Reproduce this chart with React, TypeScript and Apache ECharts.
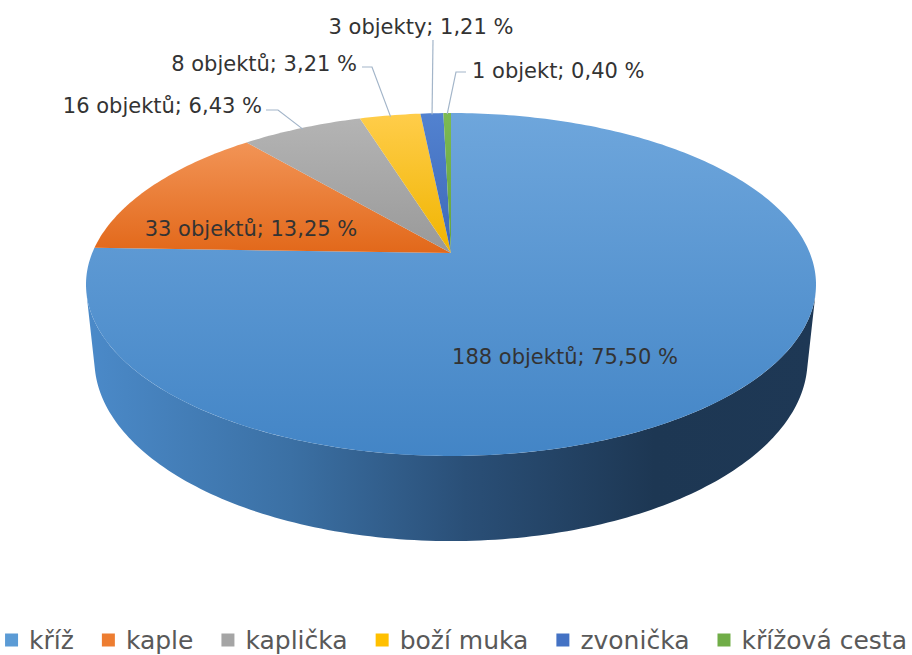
import React, { useEffect, useRef } from 'react';
import * as echarts from 'echarts';

// ---- data ----
const CATEGORIES = ['kříž', 'kaple', 'kaplička', 'boží muka', 'zvonička', 'křížová cesta'];
const COUNTS = [188, 33, 16, 8, 3, 1];
const PERCENTS = [75.5, 13.25, 6.43, 3.21, 1.21, 0.4];
const UNITS = ['objektů', 'objektů', 'objektů', 'objektů', 'objekty', 'objekt'];

// ---- styles ----
const COLORS = ['#5b9bd5', '#ed7d31', '#a5a5a5', '#ffc000', '#4472c4', '#70ad47'];
const TOP_GRAD: [string, string][] = [
  ['#6ea6dc', '#4385c6'],
  ['#f29456', '#e2681a'],
  ['#b4b4b4', '#999999'],
  ['#ffcd4a', '#f0b400'],
  ['#5282d0', '#3d68b8'],
  ['#7cba52', '#66a23e'],
];
const SIDE_GRAD: [string, string, string, string, string][] = [
  ['#4b8ac9', '#3b70a4', '#2a4f77', '#1d3753', '#1e3855'],
  ['#c4601f', '#a9521a', '#8d4416', '#733712', '#733712'],
  ['#8c8c8c', '#777777', '#636363', '#505050', '#505050'],
  ['#d9a300', '#bb8c00', '#9c7500', '#805f00', '#805f00'],
  ['#3a61a8', '#31528f', '#284376', '#20365e', '#20365e'],
  ['#5f933c', '#517d33', '#43682a', '#365422', '#365422'],
];
const FONT = 'DejaVu Sans';
const LABEL_COLOR = '#333333';
const LEADER_COLOR = '#a3b5c9';

// label layout (pixels): text anchor, alignment, leader points from label towards slice
const LABEL_LAYOUT: { x: number; y: number; align: string; leader?: number[][] }[] = [
  { x: 565, y: 357, align: 'center' },
  { x: 251, y: 229, align: 'center' },
  { x: 262, y: 106, align: 'right', leader: [[266, 110], [278, 110]] },
  { x: 357, y: 64, align: 'right', leader: [[362, 67], [372, 67]] },
  { x: 421, y: 27, align: 'center', leader: [[433, 40]] },
  { x: 472, y: 71, align: 'left', leader: [[466, 72], [456, 72]] },
];

// ---- 3D projection of the pie ----
const CX = 451;
const CY = 253;
const SCALE = 358.8;
const ELEV = (27.5 * Math.PI) / 180;
const DIST = 4.83;
const DEPTH = 0.239;
const SINE = Math.sin(ELEV);
const COSE = Math.cos(ELEV);
const F = SCALE * DIST;

function proj(theta: number, r: number, h: number): number[] {
  const u = r * Math.sin(theta);
  const v = r * Math.cos(theta);
  const yc = h * COSE + v * SINE;
  const zc = DIST + v * COSE - h * SINE;
  return [CX + (F * u) / zc, CY - (F * yc) / zc];
}

function arc(a0: number, a1: number, h: number): number[][] {
  const n = Math.max(2, Math.ceil(((a1 - a0) * 180) / Math.PI));
  const pts: number[][] = [];
  for (let k = 0; k <= n; k++) pts.push(proj(a0 + ((a1 - a0) * k) / n, 1, h));
  return pts;
}

const TOTAL = COUNTS.reduce((a, b) => a + b, 0);
const VIS_C = Math.asin(1 / (DIST * COSE));
const VIS0 = Math.PI / 2 + VIS_C;
const VIS1 = (3 * Math.PI) / 2 - VIS_C;

function fmtPct(p: number): string {
  return p.toFixed(2).replace('.', ',');
}

function makeRender(i: number) {
  return (params: any, api: any) => {
    const before = COUNTS.slice(0, i).reduce((a, b) => a + b, 0);
    const val = api.value(0);
    const a0 = (before / TOTAL) * Math.PI * 2;
    const a1 = a0 + (val / TOTAL) * Math.PI * 2;
    const children: any[] = [];

    const left = proj(-Math.PI / 2, 1, 0)[0];
    const right = proj(Math.PI / 2, 1, 0)[0];

    // side (front visible part)
    const s0 = Math.max(a0, VIS0);
    const s1 = Math.min(a1, VIS1);
    if (s1 > s0) {
      const topArc = arc(s0, s1, 0);
      const botArc = arc(s0, s1, -DEPTH).reverse();
      const sg = SIDE_GRAD[i];
      children.push({
        type: 'polygon',
        z2: 1,
        shape: { points: topArc.concat(botArc) },
        style: {
          fill: new echarts.graphic.LinearGradient(left - 5, 0, right + 5, 0, [
            { offset: 0, color: sg[0] },
            { offset: 0.28, color: sg[1] },
            { offset: 0.52, color: sg[2] },
            { offset: 0.78, color: sg[3] },
            { offset: 1, color: sg[4] },
          ], true),
        },
      });
    }

    // top face
    const topPts = [proj(0, 0, 0)].concat(arc(a0, a1, 0));
    children.push({
      type: 'polygon',
      z2: 2,
      shape: { points: topPts },
      style: {
        fill: new echarts.graphic.LinearGradient(0, 0, 0, 1, [
          { offset: 0, color: TOP_GRAD[i][0] },
          { offset: 1, color: TOP_GRAD[i][1] },
        ]),
      },
    });

    // leader + label
    const lay = LABEL_LAYOUT[i];
    if (lay.leader) {
      const rim = proj((a0 + a1) / 2, 0.99, 0);
      children.push({
        type: 'polyline',
        z2: 5,
        shape: { points: lay.leader.concat([rim]) },
        style: { stroke: LEADER_COLOR, lineWidth: 1.2, fill: null },
      });
    }
    children.push({
      type: 'text',
      z2: 10,
      style: {
        text: `${COUNTS[i]} ${UNITS[i]}; ${fmtPct(PERCENTS[i])} %`,
        x: lay.x,
        y: lay.y,
        align: lay.align,
        verticalAlign: 'middle',
        fill: LABEL_COLOR,
        fontFamily: FONT,
        fontSize: 21,
      },
    });

    return { type: 'group', children };
  };
}

export default function App() {
  const ref = useRef<HTMLDivElement>(null);
  useEffect(() => {
    if (!ref.current) return;
    const chart = echarts.init(ref.current, null, { renderer: 'svg' });
    chart.setOption({
      animation: false,
      backgroundColor: '#ffffff',
      legend: {
        data: CATEGORIES,
        left: 'center',
        top: 626,
        padding: 0,
        icon: 'rect',
        itemWidth: 13,
        itemHeight: 13,
        itemGap: 28,
        selectedMode: false,
        textStyle: {
          fontFamily: FONT,
          fontSize: 25,
          lineHeight: 28,
          color: '#595959',
          padding: [0, 0, 0, 6],
        },
      },
      series: CATEGORIES.map((name, i) => ({
        type: 'custom',
        name,
        coordinateSystem: 'none',
        silent: true,
        data: [COUNTS[i]],
        itemStyle: { color: COLORS[i] },
        renderItem: makeRender(i),
      })),
    });
    return () => chart.dispose();
  }, []);
  return (
    <div
      ref={ref}
      style={{ position: 'fixed', left: 0, top: 0, width: 912, height: 655 }}
    />
  );
}
